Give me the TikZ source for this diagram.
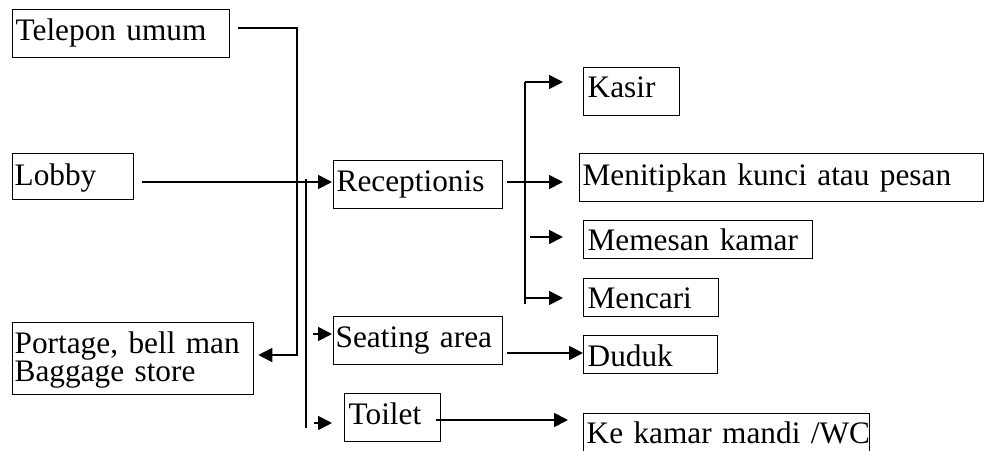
\documentclass[tikz,border=0pt]{standalone}
\usepackage{fontspec}
\setmainfont{Liberation Serif}
\usetikzlibrary{arrows.meta}

\tikzset{
  box/.style={draw, line width=1.3pt, anchor=north west, inner ysep=0pt, align=left},
  % inner xsep, text width, text height, text depth (all in pt)
  fit4/.style n args={4}{inner xsep=#1pt, text width=#2pt, text height=#3pt, text depth=#4pt},
  wire/.style={line width=1.8pt},
  arr/.style={wire, -{Triangle[length=14pt,width=14pt]}},
  every node/.style={font=\fontsize{31.3pt}{27pt}\selectfont}
}

\begin{document}
\begin{tikzpicture}[x=1pt, y=-1pt]
  \useasboundingbox (0,0) rectangle (985,450);
  \fill[white] (0,0) rectangle (985,450);

  % boxes on the left
  \node[box, fit4={3}{211}{31}{17}] (tel) at (12,9)   {Telepon umum};
  \node[box, fit4={2}{117}{32}{14}] (lob) at (12,153) {Lobby};
  \node[box, fit4={2}{237}{31}{41}] (por) at (12,322) {Portage, bell man\\Baggage store};

  % middle column
  \node[box, fit4={3}{163}{31}{17}] (rec) at (333,160) {Receptionis};
  \node[box, fit4={2}{165}{31}{17}] (sea) at (333,316) {Seating area};
  \node[box, fit4={4}{88}{31}{17}]  (toi) at (344,393) {Toilet};

  % right column
  \node[box, fit4={4}{88}{30}{18}]  (kas) at (583,67)  {Kasir};
  \node[box, fit4={3}{398}{32}{16}] (men) at (579,153) {\mbox{Menitipkan kunci atau pesan}};
  \node[box, fit4={4}{221}{30}{8}]  (mem) at (583,220) {Memesan kamar};
  \node[box, fit4={4}{127}{30}{8}]  (mca) at (583,278) {Mencari};
  \node[box, fit4={4}{126}{31}{7}]  (dud) at (583,335) {Duduk};
  \node[box, fit4={3}{280}{30}{18}] (kek) at (583,413) {\mbox{Ke kamar mandi /WC}};

  % trunk lines
  \coordinate (ta) at (297,28);
  \coordinate (tb) at (297,355);
  \coordinate (bt) at (306,179);
  \coordinate (bb) at (306,428);
  \coordinate (ct) at (525,82);
  \coordinate (cb) at (525,304);

  % Telepon umum down to the baggage store
  \draw[arr, shorten <=8pt, shorten >=4pt] (tel.east |- ta) -- (ta) -- (tb) -- (por.east |- tb);

  % Lobby to Receptionis, and the second trunk
  \draw[arr, shorten <=8pt, shorten >=1pt] (lob.east |- 0,182) -- (rec.west |- 0,182);
  \draw[wire] (bt) -- (bb);
  \draw[arr, shorten <=7pt, shorten >=1pt] (bt |- 0,334) -- (sea.west |- 0,334);
  \draw[arr, shorten <=8pt, shorten >=12pt] (bt |- 0,423) -- (toi.west |- 0,423);

  % Receptionis branches
  \draw[wire] (ct) -- (cb);
  \draw[arr, shorten >=20pt] (ct) -- (kas.west |- ct);
  \draw[arr, shorten <=4pt, shorten >=16pt] (rec.east |- 0,182) -- (men.west |- 0,182);
  \draw[arr, shorten <=5pt, shorten >=20pt] (ct |- 0,237) -- (mem.west |- 0,237);
  \draw[arr, shorten >=20pt] (ct |- 0,298) -- (mca.west |- 0,298);

  % Seating area and Toilet outcomes
  \draw[arr, shorten <=4pt] (sea.east |- 0,353) -- (dud.west |- 0,353);
  \draw[arr, shorten <=-5pt, shorten >=15pt] (toi.east |- 0,420) -- (kek.west |- 0,420);
\end{tikzpicture}
\end{document}
